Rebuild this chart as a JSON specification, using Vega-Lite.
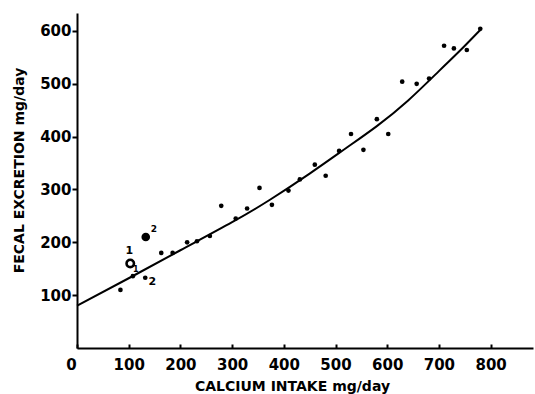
{
  "$schema": "https://vega.github.io/schema/vega-lite/v6.json",
  "width": 456,
  "height": 335,
  "autosize": {"type": "none"},
  "padding": {"left": 77, "top": 13, "right": 2, "bottom": 46},
  "background": "white",
  "config": {
    "view": {"stroke": null},
    "axis": {
      "grid": false,
      "domainColor": "black",
      "domainWidth": 2,
      "tickColor": "black",
      "tickWidth": 2,
      "labelColor": "black",
      "labelFont": "DejaVu Sans",
      "labelFontWeight": "bold",
      "labelFontSize": 15,
      "labelFlush": false,
      "labelOverlap": false,
      "titleColor": "black",
      "titleFont": "DejaVu Sans",
      "titleFontWeight": "bold",
      "titleFontSize": 14
    }
  },
  "datasets": {
    "points": [
      {"x": 84, "y": 110, "kind": "plain", "tag": ""},
      {"x": 108, "y": 136, "kind": "plain", "tag": "s1"},
      {"x": 132, "y": 133, "kind": "plain", "tag": "s2"},
      {"x": 163, "y": 180, "kind": "plain", "tag": ""},
      {"x": 185, "y": 180, "kind": "plain", "tag": ""},
      {"x": 213, "y": 200, "kind": "plain", "tag": ""},
      {"x": 232, "y": 202, "kind": "plain", "tag": ""},
      {"x": 257, "y": 212, "kind": "plain", "tag": ""},
      {"x": 279, "y": 269, "kind": "plain", "tag": ""},
      {"x": 307, "y": 245, "kind": "plain", "tag": ""},
      {"x": 329, "y": 264, "kind": "plain", "tag": ""},
      {"x": 353, "y": 303, "kind": "plain", "tag": ""},
      {"x": 377, "y": 271, "kind": "plain", "tag": ""},
      {"x": 409, "y": 298, "kind": "plain", "tag": ""},
      {"x": 431, "y": 319, "kind": "plain", "tag": ""},
      {"x": 460, "y": 347, "kind": "plain", "tag": ""},
      {"x": 481, "y": 326, "kind": "plain", "tag": ""},
      {"x": 507, "y": 373, "kind": "plain", "tag": ""},
      {"x": 530, "y": 405, "kind": "plain", "tag": ""},
      {"x": 554, "y": 375, "kind": "plain", "tag": ""},
      {"x": 580, "y": 433, "kind": "plain", "tag": ""},
      {"x": 602, "y": 405, "kind": "plain", "tag": ""},
      {"x": 629, "y": 504, "kind": "plain", "tag": ""},
      {"x": 657, "y": 500, "kind": "plain", "tag": ""},
      {"x": 681, "y": 510, "kind": "plain", "tag": ""},
      {"x": 710, "y": 572, "kind": "plain", "tag": ""},
      {"x": 729, "y": 567, "kind": "plain", "tag": ""},
      {"x": 754, "y": 564, "kind": "plain", "tag": ""},
      {"x": 780, "y": 604, "kind": "plain", "tag": ""},
      {"x": 103, "y": 160, "kind": "ring", "tag": "b1"},
      {"x": 133, "y": 210, "kind": "solid", "tag": "b2"}
    ],
    "curve": [
      {"x": 0, "y": 80},
      {"x": 100, "y": 132},
      {"x": 200, "y": 185},
      {"x": 300, "y": 238},
      {"x": 374, "y": 281},
      {"x": 450, "y": 330},
      {"x": 520, "y": 378},
      {"x": 580, "y": 420},
      {"x": 640, "y": 468},
      {"x": 700, "y": 524},
      {"x": 740, "y": 562},
      {"x": 780, "y": 602}
    ]
  },
  "encoding": {
    "x": {
      "field": "x",
      "type": "quantitative",
      "scale": {"domain": [0, 882], "nice": false, "zero": false},
      "axis": {
        "values": [0, 100, 200, 300, 400, 500, 600, 700, 800],
        "tickSize": -4,
        "labelPadding": 13,
        "labelOffset": {"condition": {"test": "datum.value === 0", "value": -6}, "value": 0},
        "title": "CALCIUM INTAKE  mg/day",
        "titleX": 215,
        "titleY": 42,
        "titleAlign": "center",
        "titleBaseline": "alphabetic"
      }
    },
    "y": {
      "field": "y",
      "type": "quantitative",
      "scale": {"domain": [0, 634], "nice": false, "zero": false},
      "axis": {
        "values": [100, 200, 300, 400, 500, 600],
        "tickSize": 5,
        "labelPadding": 1,
        "title": "FECAL EXCRETION  mg/day",
        "titleX": -58,
        "titleY": 157,
        "titleAngle": -90,
        "titleAlign": "center",
        "titleBaseline": "middle"
      }
    }
  },
  "layer": [
    {
      "data": {"name": "curve"},
      "mark": {"type": "line", "color": "black", "strokeWidth": 2, "interpolate": "natural"}
    },
    {
      "data": {"name": "points"},
      "transform": [{"filter": "datum.kind === 'plain'"}],
      "mark": {"type": "circle", "color": "black", "opacity": 1, "size": 22}
    },
    {
      "data": {"name": "points"},
      "transform": [{"filter": "datum.kind === 'ring'"}],
      "mark": {"type": "point", "shape": "circle", "filled": false, "stroke": "black", "fill": "white", "strokeWidth": 2.6, "opacity": 1, "size": 55}
    },
    {
      "data": {"name": "points"},
      "transform": [{"filter": "datum.kind === 'solid'"}],
      "mark": {"type": "circle", "color": "black", "opacity": 1, "size": 75}
    },
    {
      "data": {"name": "points"},
      "transform": [{"filter": "datum.tag === 'b1'"}],
      "mark": {"type": "text", "text": "1", "font": "DejaVu Sans", "fontWeight": "bold", "fontSize": 11, "color": "black", "dx": -1, "dy": -12}
    },
    {
      "data": {"name": "points"},
      "transform": [{"filter": "datum.tag === 'b2'"}],
      "mark": {"type": "text", "text": "2", "font": "DejaVu Sans", "fontWeight": "bold", "fontSize": 9, "color": "black", "dx": 8, "dy": -8}
    },
    {
      "data": {"name": "points"},
      "transform": [{"filter": "datum.tag === 's1'"}],
      "mark": {"type": "text", "text": "1", "font": "DejaVu Sans", "fontWeight": "bold", "fontSize": 8, "color": "black", "dx": 3, "dy": -6}
    },
    {
      "data": {"name": "points"},
      "transform": [{"filter": "datum.tag === 's2'"}],
      "mark": {"type": "text", "text": "2", "font": "DejaVu Sans", "fontWeight": "bold", "fontSize": 11, "color": "black", "dx": 7, "dy": 4}
    }
  ]
}
